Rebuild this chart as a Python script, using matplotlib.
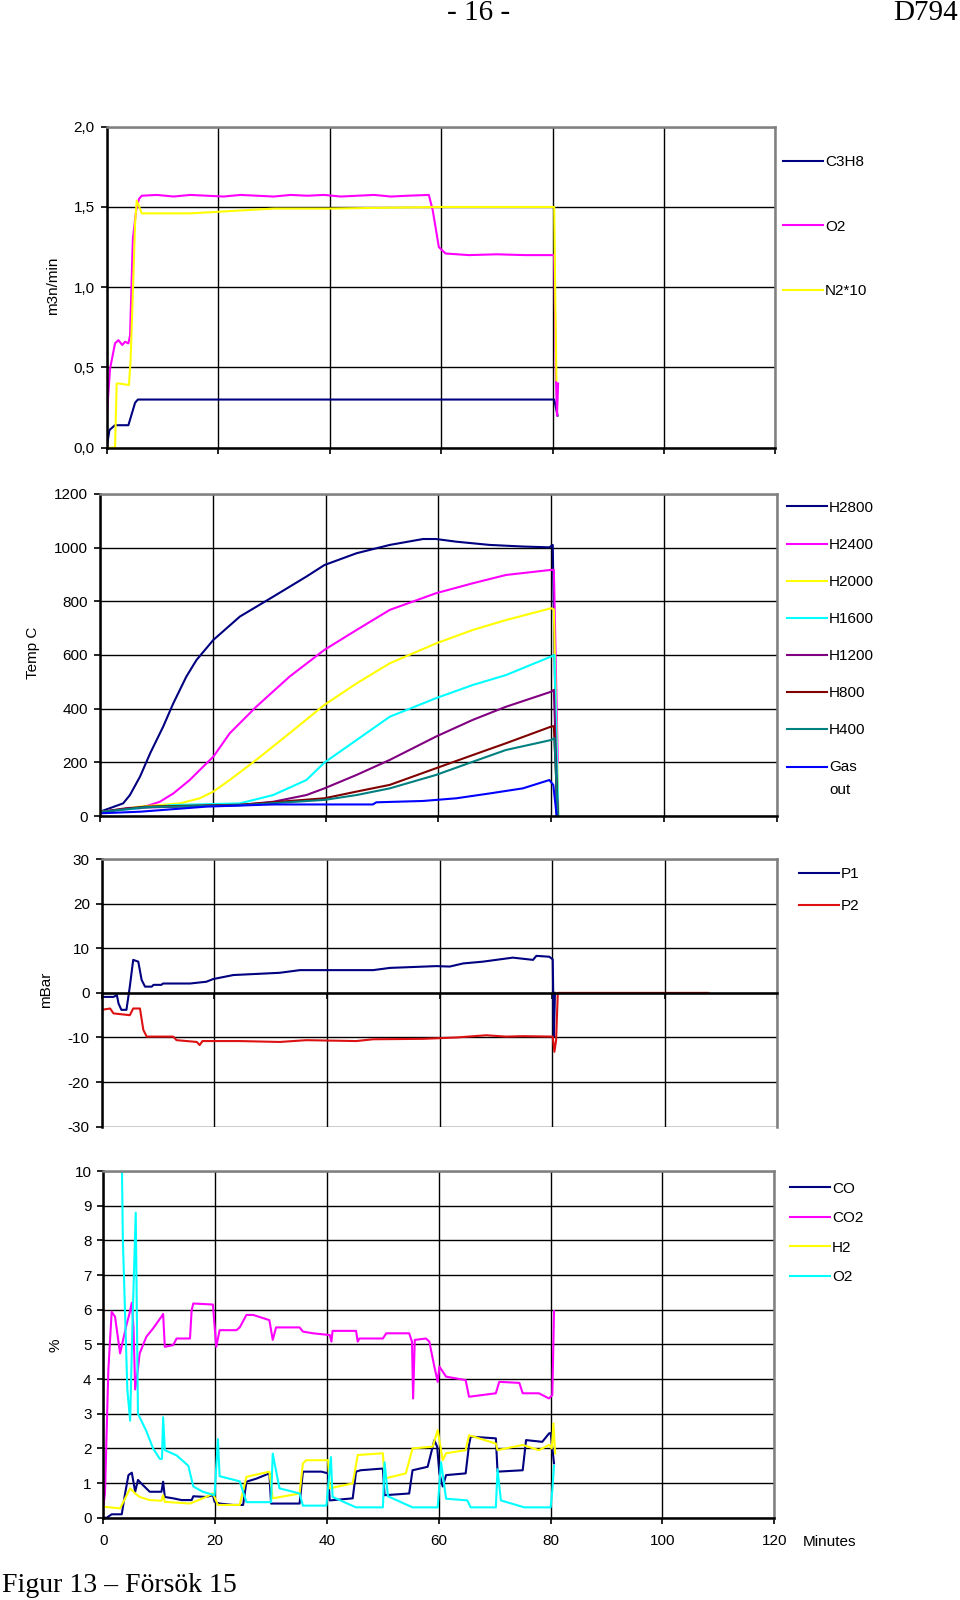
import matplotlib
matplotlib.use('Agg')
import matplotlib.pyplot as plt

plt.rcParams['font.family'] = ['Liberation Sans', 'DejaVu Sans']

# ---- panel 1: flows (m3n/min) ----
t_c3h8 = [0, 0.5, 1.5, 3.9, 5.1, 5.6, 80.3, 80.9]
c3h8 = [0.0, 0.11, 0.14, 0.14, 0.28, 0.30, 0.30, 0.20]

t_o2f = [0, 0.6, 1.5, 2.1, 2.8, 3.3, 3.9, 4.2, 4.7, 5.3, 5.8, 6.3, 9, 12, 15, 18, 21, 24, 27,
         30, 33, 36, 39, 42, 45, 48, 51, 54, 57.8, 58.5, 59.6, 60.8, 65, 70, 75, 80.3, 80.6, 80.8, 81.0]
o2f = [0.18, 0.49, 0.65, 0.67, 0.64, 0.66, 0.65, 0.70, 1.30, 1.48, 1.55, 1.57, 1.575, 1.565, 1.575, 1.57,
       1.565, 1.575, 1.57, 1.565, 1.575, 1.57, 1.575, 1.565, 1.57, 1.575, 1.565, 1.57, 1.575, 1.48, 1.25,
       1.21, 1.20, 1.205, 1.20, 1.20, 0.45, 0.20, 0.40]

t_n2 = [0, 1.5, 1.8, 2.3, 4.0, 4.3, 4.8, 5.1, 5.4, 6.3, 10, 15, 20, 30, 40, 60, 80.3, 80.5, 80.7]
n2 = [0.0, 0.0, 0.40, 0.40, 0.39, 0.55, 1.07, 1.40, 1.54, 1.46, 1.46, 1.46, 1.47, 1.49, 1.49, 1.50, 1.50, 0.90, 0.42]

# ---- panel 2: temperatures (C) ----
t_h2800 = [0, 4.1, 5.3, 7.1, 8.9, 11.2, 13.0, 15.3, 17.1, 20.1, 24.8, 30.7, 36.6, 39.8, 45.5, 51.4,
           57.3, 59.6, 63.2, 69.1, 75.0, 79.7, 80.3, 80.7, 81.0]
h2800 = [16, 47, 78, 147, 234, 333, 420, 519, 581, 656, 743, 817, 892, 935, 979, 1010,
         1032, 1032, 1022, 1010, 1004, 1001, 1010, 500, 0]
t_h2400 = [0, 7.1, 10.6, 13.0, 15.9, 18.3, 20.1, 23.0, 27.7, 33.6, 39.8, 45.5, 51.4, 59.6, 66.1, 72.0, 80.0, 80.5, 81.2]
h2400 = [16, 29, 53, 84, 134, 184, 221, 308, 407, 519, 619, 693, 768, 830, 867, 898, 917, 917, 200]
t_h2000 = [0, 7.1, 14.2, 17.7, 20.1, 23.0, 27.7, 33.6, 39.8, 45.5, 51.4, 59.6, 66.1, 72.0, 80.0, 80.5, 81.3]
h2000 = [15, 35, 47, 66, 91, 134, 209, 308, 414, 494, 569, 643, 693, 730, 774, 770, 0]
t_h1600 = [0, 13.0, 24.8, 30.7, 36.6, 39.8, 45.5, 51.4, 59.6, 66.1, 72.0, 80.0, 80.6, 81.3]
h1600 = [15, 41, 47, 78, 134, 199, 283, 370, 439, 488, 525, 594, 600, 0]
t_h1200 = [0, 5, 24.8, 30.7, 36.6, 39.8, 45.5, 51.4, 59.6, 66.1, 72.0, 80.0, 80.5, 81.2]
h1200 = [15, 30, 41, 53, 78, 103, 153, 209, 296, 358, 407, 463, 470, 0]
t_h800 = [0, 8, 25, 39.8, 45.5, 51.4, 59.6, 66.1, 72.0, 80.0, 80.5, 81.2]
h800 = [15, 35, 42, 66, 91, 116, 178, 227, 271, 333, 335, 0]
t_h400 = [0, 8, 25, 39.8, 45.5, 51.4, 59.6, 66.1, 72.0, 80.0, 80.6, 81.2]
h400 = [15, 33, 40, 60, 78, 103, 153, 202, 246, 283, 290, 0]
t_gas = [0, 7.1, 18.9, 30.7, 48.4, 49.0, 57.3, 63.2, 69.1, 75.0, 79.7, 80.4, 81.0]
gas = [10, 16, 35, 43, 43, 51, 56, 66, 84, 103, 134, 116, 0]

# ---- panel 3: pressures (mBar) ----
t_p1 = [0, 2.1, 2.7, 3.0, 3.5, 4.4, 5.0, 5.6, 6.5, 7.1, 7.7, 8.9, 9.2, 10.6, 10.9, 15.7, 18.6, 19.8,
        23.4, 31.6, 35.2, 42.3, 48.2, 51.2, 59.4, 61.8, 64.2, 67.7, 73.0, 76.6, 77.2, 79.5, 80.1, 80.3, 80.5]
p1 = [-0.9, -0.9, -0.5, -2.4, -3.8, -3.8, 1.4, 7.4, 7.0, 2.9, 1.4, 1.4, 1.8, 1.8, 2.1, 2.1, 2.5, 3.1,
      4.0, 4.5, 5.1, 5.1, 5.1, 5.6, 6.0, 5.9, 6.6, 7.0, 7.9, 7.4, 8.3, 8.1, 7.5, -9.8, 0.0]
t_p2 = [0, 1.5, 2.1, 5.0, 5.6, 6.8, 7.4, 8.0, 12.7, 13.3, 16.9, 17.4, 17.9, 24.5, 31.6, 36.4, 45.2,
        48.2, 57.1, 63.0, 68.3, 71.8, 74.8, 80.1, 80.4, 80.7, 81.0, 107.7]
p2 = [-3.8, -3.5, -4.6, -5.0, -3.5, -3.5, -8.3, -9.8, -9.8, -10.6, -11.0, -11.7, -10.8, -10.8, -11.0,
      -10.6, -10.8, -10.4, -10.3, -10.0, -9.5, -9.8, -9.7, -9.8, -13.2, -10.6, 0.0, 0.0]

# ---- panel 4: gas composition (%) ----
t_co = [0, 0.6, 1.5, 3.3, 3.9, 4.5, 5.1, 5.7, 6.2, 7.1, 8.3, 10.4, 10.7, 11.0, 12.5, 14.0, 15.8, 16.1,
        18.4, 19.6, 19.9, 20.8, 23.2, 25.0, 25.6, 27.4, 29.7, 30.0, 35.1, 35.7, 39.0, 40.2, 40.5, 44.6,
        45.2, 46.0, 50.0, 50.3, 54.7, 55.3, 58.0, 59.2, 59.7, 60.1, 60.7, 61.3, 64.8, 65.4, 65.7, 70.2,
        70.5, 75.0, 75.6, 78.5, 79.7, 80.0, 80.6]
co = [0.0, 0.0, 0.1, 0.1, 0.7, 1.23, 1.3, 0.75, 1.09, 0.94, 0.75, 0.75, 1.04, 0.6, 0.56, 0.51, 0.51, 0.62,
      0.6, 0.65, 0.46, 0.41, 0.37, 0.37, 1.04, 1.13, 1.28, 0.41, 0.41, 1.33, 1.33, 1.28, 0.5, 0.56,
      1.33, 1.37, 1.42, 0.65, 0.7, 1.37, 1.47, 2.24, 2.05, 1.28, 0.9, 1.23, 1.28, 2.1, 2.34, 2.29,
      1.33, 1.37, 2.24, 2.19, 2.43, 2.45, 1.57]
t_co2 = [0, 0.3, 0.9, 1.5, 2.1, 3.0, 3.5, 4.2, 4.7, 5.1, 5.4, 5.7, 6.2, 6.5, 7.7, 8.9, 10.4, 10.7, 11.0,
         12.5, 13.1, 15.5, 15.8, 16.1, 19.6, 20.2, 20.8, 23.8, 24.4, 25.6, 26.8, 29.7, 30.3, 30.9, 35.1,
         35.7, 37.5, 40.5, 40.8, 41.0, 45.2, 45.5, 45.8, 50.0, 50.6, 54.7, 55.2, 55.4, 55.7, 57.7, 58.3,
         59.2, 59.8, 60.1, 61.3, 64.8, 65.4, 70.2, 70.8, 74.4, 75.0, 77.9, 79.7, 80.3, 80.6]
co2 = [0.32, 0.7, 4.26, 5.94, 5.8, 4.74, 5.1, 5.6, 5.9, 6.2, 5.5, 3.7, 4.3, 4.74, 5.22, 5.46, 5.8, 5.88,
       4.93, 4.98, 5.17, 5.17, 5.99, 6.18, 6.15, 4.93, 5.41, 5.41, 5.49, 5.85, 5.85, 5.7, 5.13, 5.49,
       5.49, 5.37, 5.32, 5.27, 5.08, 5.39, 5.39, 5.08, 5.17, 5.17, 5.32, 5.32, 5.08, 3.44, 5.13, 5.17,
       5.08, 4.36, 3.92, 4.36, 4.07, 3.97, 3.49, 3.59, 3.92, 3.89, 3.59, 3.59, 3.44, 3.54, 5.96]
t_h2 = [0, 3.0, 3.6, 4.8, 5.7, 6.5, 8.3, 10.4, 10.7, 11.0, 15.5, 18.4, 19.6, 20.5, 24.4, 25.6, 29.7,
        30.3, 35.1, 35.7, 36.3, 40.2, 40.5, 44.6, 45.5, 50.0, 50.3, 54.1, 55.3, 58.9, 59.8, 60.7, 61.3,
        64.8, 65.4, 70.2, 70.5, 75.0, 77.9, 79.7, 80.2, 80.5, 80.8]
h2 = [0.32, 0.27, 0.46, 0.85, 0.7, 0.6, 0.51, 0.49, 0.65, 0.46, 0.41, 0.6, 0.7, 0.37, 0.37, 1.18, 1.33,
      0.56, 0.7, 1.57, 1.66, 1.66, 0.85, 0.99, 1.81, 1.86, 1.13, 1.28, 2.0, 2.05, 2.53, 1.66, 1.86,
      1.95, 2.38, 2.14, 1.95, 2.1, 1.95, 2.1, 2.0, 2.72, 1.86]
t_o2g = [3.3, 3.5, 4.3, 4.8, 5.2, 5.8, 6.2, 7.7, 8.9, 10.1, 10.5, 10.7, 11.0, 13.1, 15.2, 16.1, 17.8,
         19.9, 20.5, 20.8, 24.4, 25.6, 30.0, 30.3, 31.5, 35.1, 35.7, 39.9, 40.7, 41.0, 45.2, 50.0, 50.3,
         50.9, 55.3, 59.8, 60.4, 61.3, 65.1, 65.7, 70.2, 70.5, 71.1, 75.3, 80.0, 80.3, 80.6]
o2g = [10.5, 8.0, 3.7, 2.8, 5.5, 8.8, 3.0, 2.5, 2.0, 1.7, 1.7, 2.9, 1.95, 1.8, 1.5, 0.9, 0.75,
       0.65, 2.27, 1.2, 1.05, 0.45, 0.45, 1.85, 0.85, 0.7, 0.35, 0.35, 1.75, 0.6, 0.3, 0.3, 1.6,
       0.62, 0.3, 0.3, 1.6, 0.55, 0.5, 0.3, 0.3, 1.4, 0.5, 0.3, 0.3, 0.8, 1.5]

minutes = [0, 20, 40, 60, 80, 100, 120]

NAVY, MAG, YEL, CYA = '#000080', '#ff00ff', '#ffff00', '#00ffff'
PUR, MAR, TEAL, BLUE, RED = '#800080', '#800000', '#008080', '#0000ff', '#dd1111'

fig = plt.figure(figsize=(9.6, 16), dpi=100)


def style(ax, ylim, yticks, ylabels):
    ax.set_xlim(0, 120)
    ax.set_ylim(*ylim)
    ax.set_xticks(minutes)
    ax.set_yticks(yticks)
    ax.set_yticklabels(ylabels)
    ax.grid(True, color='black', linewidth=1.0)
    for s in ['left', 'bottom']:
        ax.spines[s].set_color('black')
        ax.spines[s].set_linewidth(1.8)
    for s in ['top', 'right']:
        ax.spines[s].set_color('#808080')
        ax.spines[s].set_linewidth(1.8)
    ax.tick_params(direction='out', length=4, width=1.2, labelsize=11, pad=4.5)
    ax.set_xticklabels([])


def legend(ax, x, y, spacing):
    leg = ax.legend(loc='upper left', bbox_to_anchor=(x, y), bbox_transform=fig.transFigure,
                    frameon=False, fontsize=11, handlelength=2.6, handletextpad=0.15,
                    labelspacing=spacing, borderpad=0, borderaxespad=0)
    return leg


lw = 1.5

# panel 1
ax1 = fig.add_axes([0.1111, 0.7202, 0.6967, 0.2006])
ax1.plot(t_c3h8, c3h8, color=NAVY, lw=lw, label='C3H8')
ax1.plot(t_o2f, o2f, color=MAG, lw=lw, label='O2')
ax1.plot(t_n2, n2, color=YEL, lw=lw, label='N2*10')
style(ax1, (0, 2), [0, 0.5, 1.0, 1.5, 2.0], ['0,0', '0,5', '1,0', '1,5', '2,0'])
legend(ax1, 0.8156, 0.9031, 3.32)
fig.text(0.055, 1 - 286 / 1600, 'm3n/min', rotation=90, ha='center', va='center', fontsize=11)

# panel 2
ax2 = fig.add_axes([0.1042, 0.49, 0.7047, 0.2013])
ax2.plot(t_h2800, h2800, color=NAVY, lw=lw, label='H2800')
ax2.plot(t_h2400, h2400, color=MAG, lw=lw, label='H2400')
ax2.plot(t_h2000, h2000, color=YEL, lw=lw, label='H2000')
ax2.plot(t_h1600, h1600, color=CYA, lw=lw, label='H1600')
ax2.plot(t_h1200, h1200, color=PUR, lw=lw, label='H1200')
ax2.plot(t_h800, h800, color=MAR, lw=lw, label='H800')
ax2.plot(t_h400, h400, color=TEAL, lw=lw, label='H400')
ax2.plot(t_gas, gas, color=BLUE, lw=lw, label='Gas\nout')
yt2 = [0, 200, 400, 600, 800, 1000, 1200]
style(ax2, (0, 1200), yt2, [str(v) for v in yt2])
leg2 = legend(ax2, 0.8198, 0.687, 1.51)
leg2.get_texts()[-1].set_linespacing(1.75)
# Excel draws the handle beside the first line of a wrapped label
gas_handle = leg2.get_lines()[-1]
gas_handle.set_ydata([v + 8.5 for v in gas_handle.get_ydata()])
fig.text(0.034, 1 - 653 / 1600, 'Temp C', rotation=90, ha='center', va='center', fontsize=11)

# panel 3
ax3 = fig.add_axes([0.1059, 0.2958, 0.7039, 0.1673])
ax3.plot(t_p1, p1, color=NAVY, lw=lw, label='P1')
ax3.plot(t_p2, p2, color=RED, lw=lw, label='P2')
yt3 = [-30, -20, -10, 0, 10, 20, 30]
style(ax3, (-30, 30), yt3, [str(v) for v in yt3])
ax3.spines['bottom'].set_position(('data', 0))
legend(ax3, 0.8323, 0.4581, 1.2)
fig.text(0.048, 1 - 990 / 1600, 'mBar', rotation=90, ha='center', va='center', fontsize=11)

# panel 4
ax4 = fig.add_axes([0.1076, 0.0514, 0.699, 0.2167])
ax4.plot(t_co, co, color=NAVY, lw=lw, label='CO')
ax4.plot(t_co2, co2, color=MAG, lw=lw, label='CO2')
ax4.plot(t_h2, h2, color=YEL, lw=lw, label='H2')
ax4.plot(t_o2g, o2g, color=CYA, lw=lw, label='O2')
yt4 = list(range(0, 11))
style(ax4, (0, 10), yt4, [str(v) for v in yt4])
ax4.set_xticklabels([str(m) for m in minutes])
ax4.tick_params(axis='x', pad=8)
legend(ax4, 0.8229, 0.2614, 1.01)
fig.text(0.058, 1 - 1345 / 1600, '%', rotation=90, ha='center', va='center', fontsize=11)
fig.text(803 / 960, 1 - 1542 / 1600, 'Minutes', ha='left', va='center', fontsize=11)

# page header / caption
serif = ['Liberation Serif', 'DejaVu Serif']
fig.text(479 / 960, 1 - 13 / 1600, '- 16 -', ha='center', va='center', fontsize=21, family=serif)
fig.text(958 / 960, 1 - 13 / 1600, 'D794', ha='right', va='center', fontsize=21, family=serif)
fig.text(2 / 960, 1 - 1585 / 1600, 'Figur 13 \u2013 Försök 15', ha='left', va='center', fontsize=20, family=serif)

fig.savefig('out.png', dpi=100)
